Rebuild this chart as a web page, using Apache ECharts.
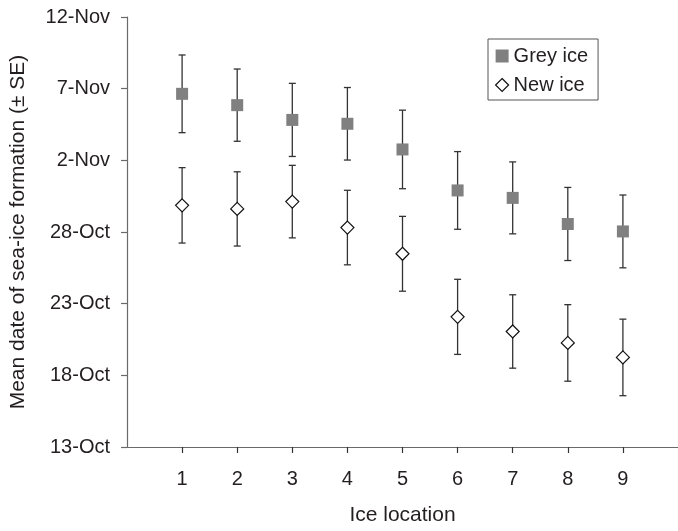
<!DOCTYPE html>
<html>
<head>
<meta charset="utf-8">
<script src="https://cdn.jsdelivr.net/npm/echarts@6/dist/echarts.min.js"></script>
<style>
html,body{margin:0;padding:0;background:#fff;}
#chart{width:678px;height:531px;}
</style>
</head>
<body>
<div id="chart"></div>
<script>
// Ice locations (x categories)
const locations = [1, 2, 3, 4, 5, 6, 7, 8, 9];
// Values are days after 13-Oct
const greyMean = [24.64, 23.85, 22.82, 22.55, 20.76, 17.9, 17.38, 15.56, 15.04];
const greySE   = [2.71, 2.52, 2.55, 2.53, 2.74, 2.71, 2.51, 2.55, 2.54];
const newMean  = [16.86, 16.61, 17.12, 15.31, 13.48, 9.08, 8.06, 7.26, 6.25];
const newSE    = [2.63, 2.59, 2.53, 2.60, 2.61, 2.62, 2.56, 2.67, 2.67];
// y tick labels every 5 days starting at 13-Oct
const yTickLabels = ['13-Oct', '18-Oct', '23-Oct', '28-Oct', '2-Nov', '7-Nov', '12-Nov'];
const seriesNames = ['Grey ice', 'New ice'];

const FONT = "'Liberation Sans', Arial, Helvetica, sans-serif";
const TXT = '#231f20';
const AXIS = '#6a6a6a';

function errData(mean, se) {
  return locations.map((x, i) => [x, mean[i] - se[i], mean[i] + se[i]]);
}
function errRender(params, api) {
  const x = api.value(0);
  const lo = api.coord([x, api.value(1)]);
  const hi = api.coord([x, api.value(2)]);
  const hw = 3.5;
  const style = { stroke: '#333', lineWidth: 1.3, fill: null };
  return {
    type: 'group',
    children: [
      { type: 'line', shape: { x1: lo[0], y1: lo[1], x2: hi[0], y2: hi[1] }, style },
      { type: 'line', shape: { x1: lo[0] - hw, y1: lo[1], x2: lo[0] + hw, y2: lo[1] }, style },
      { type: 'line', shape: { x1: hi[0] - hw, y1: hi[1], x2: hi[0] + hw, y2: hi[1] }, style }
    ]
  };
}

const chart = echarts.init(document.getElementById('chart'), null, { renderer: 'canvas' });
chart.setOption({
  animation: false,
  backgroundColor: '#fff',
  textStyle: { fontFamily: FONT, color: TXT },
  grid: { left: 127, top: 17, width: 553, height: 435, containLabel: false },
  legend: {
    orient: 'vertical',
    left: 488,
    top: 39,
    padding: [7, 10, 5, 7],
    borderColor: '#555',
    borderWidth: 1,
    itemWidth: 13,
    itemHeight: 13,
    itemGap: 9,
    textStyle: { fontFamily: FONT, fontSize: 20, color: TXT },
    data: [
      { name: seriesNames[0], icon: 'rect', itemStyle: { color: '#808080', borderWidth: 0 } },
      { name: seriesNames[1], icon: 'diamond', itemStyle: { color: '#fff', borderColor: '#111', borderWidth: 1.2 } }
    ]
  },
  xAxis: {
    type: 'value',
    min: 0,
    max: 10,
    interval: 1,
    name: 'Ice location',
    nameLocation: 'middle',
    nameGap: 58,
    nameTextStyle: { fontFamily: FONT, fontSize: 21, color: TXT },
    axisLine: { show: true, lineStyle: { color: AXIS, width: 1.2 } },
    axisTick: { show: true, inside: false, length: 6, customValues: locations, lineStyle: { color: '#333', width: 1.2 } },
    axisLabel: { customValues: locations, margin: 22, fontFamily: FONT, fontSize: 20, color: TXT },
    splitLine: { show: false }
  },
  yAxis: {
    type: 'value',
    min: 0,
    max: 30,
    interval: 5,
    name: 'Mean date of sea-ice formation (\u00b1 SE)',
    nameLocation: 'middle',
    nameGap: 98,
    nameTextStyle: { fontFamily: FONT, fontSize: 21, color: TXT },
    axisLine: { show: true, lineStyle: { color: AXIS, width: 1.2 } },
    axisTick: { show: true, inside: false, length: 6, lineStyle: { color: AXIS, width: 1.2 } },
    axisLabel: {
      margin: 17, fontFamily: FONT, fontSize: 20, color: TXT,
      formatter: (v) => yTickLabels[Math.round(v / 5)] || ''
    },
    splitLine: { show: false }
  },
  series: [
    { type: 'custom', name: 'greyErr', renderItem: errRender, data: errData(greyMean, greySE), encode: { x: 0, y: [1, 2] }, z: 1, silent: true },
    { type: 'custom', name: 'newErr', renderItem: errRender, data: errData(newMean, newSE), encode: { x: 0, y: [1, 2] }, z: 1, silent: true },
    {
      type: 'scatter', name: seriesNames[0], symbol: 'rect', symbolSize: 12,
      itemStyle: { color: '#808080', opacity: 1 },
      data: locations.map((x, i) => [x, greyMean[i]]), z: 3
    },
    {
      type: 'scatter', name: seriesNames[1], symbol: 'diamond', symbolSize: 13,
      itemStyle: { color: '#fff', borderColor: '#111', borderWidth: 1.2, opacity: 1 },
      data: locations.map((x, i) => [x, newMean[i]]), z: 3
    }
  ]
});
</script>
</body>
</html>
